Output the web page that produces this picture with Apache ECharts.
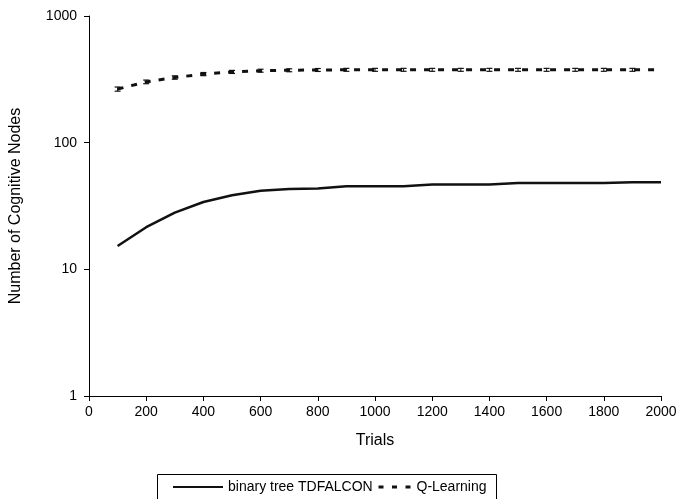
<!DOCTYPE html>
<html>
<head>
<meta charset="utf-8">
<script src="https://cdn.jsdelivr.net/npm/echarts@6/dist/echarts.min.js"></script>
<style>html,body{margin:0;padding:0;background:#fff;}#c{width:685px;height:499px;}</style>
</head>
<body>
<div id="c"></div>
<script>
var trials = [100,200,300,400,500,600,700,800,900,1000,1100,1200,1300,1400,1500,1600,1700,1800,1900,2000];
var binaryTree = [15.3,21.5,28,34,38.4,41.7,43,43.5,45.2,45.2,45.2,46.8,46.8,46.8,48,48,48,48,48.6,48.6];
var qLearning = [265,302,327,348,362,370,373,375,376,376,376,376,376,376,376,376,376,376,376,376];
var errTrials = [100,200,300,400,500,600,700,800,900,1000,1100,1200,1300,1400,1500,1600,1700,1800,1900];
var errLow = [255,292,317,338,352,360,363,365,366,366,366,366,366,366,366,366,366,366,366];
var errHigh = [275,312,337,358,372,380,383,385,386,386,386,386,386,386,386,386,386,386,386];
var xTicks = [0,200,400,600,800,1000,1200,1400,1600,1800,2000];

var font = '"Liberation Sans", Arial, sans-serif';
var chart = echarts.init(document.getElementById('c'));
var errData = errTrials.map(function(t,i){return [t, errLow[i], errHigh[i]];});
chart.setOption({
  animation: false,
  backgroundColor: '#fff',
  grid: {left: 88, right: 24, top: 16, bottom: 103, containLabel: false},
  xAxis: {
    type: 'value', min: 0, max: 2000, interval: 200,
    name: 'Trials', nameLocation: 'middle', nameGap: 37,
    nameTextStyle: {fontFamily: font, fontSize: 16, color: '#000'},
    axisLine: {lineStyle: {color: '#000', width: 1}},
    axisTick: {show: true, length: 5, lineStyle: {color: '#000'}},
    axisLabel: {fontFamily: font, fontSize: 14, color: '#000', margin: 9,
      formatter: function(v){ return xTicks.indexOf(v) >= 0 ? String(v) : ''; }},
    splitLine: {show: false}
  },
  yAxis: {
    type: 'log', logBase: 10, min: 1, max: 1000,
    name: 'Number of Cognitive Nodes', nameLocation: 'middle', nameGap: 65,
    nameTextStyle: {fontFamily: font, fontSize: 16, color: '#000'},
    axisLine: {show: true, lineStyle: {color: '#000', width: 1}},
    axisTick: {show: true, length: 5, lineStyle: {color: '#000'}},
    axisLabel: {fontFamily: font, fontSize: 14, color: '#000', margin: 12,
      formatter: function(v){ return String(Math.round(v)); }},
    minorTick: {show: false},
    splitLine: {show: false}
  },
  legend: [{
    left: 172, top: 480, itemWidth: 50, itemHeight: 14, padding: 0,
    itemStyle: {opacity: 0},
    data: [{name: 'binary tree TDFALCON'}],
    textStyle: {fontFamily: font, fontSize: 14, color: '#000'}
  }, {
    left: 377, top: 480, itemWidth: 32, itemHeight: 14, padding: 0,
    itemStyle: {opacity: 0},
    lineStyle: {type: [5, 8.5], width: 3},
    data: [{name: 'Q-Learning'}],
    textStyle: {fontFamily: font, fontSize: 14, color: '#000', padding: [0,0,0,1]}
  }],
  graphic: [{
    type: 'rect', shape: {x: 157.5, y: 474.5, width: 339, height: 40},
    style: {fill: 'none', stroke: '#000', lineWidth: 1}, silent: true
  }],
  series: [{
    name: 'binary tree TDFALCON', type: 'line', symbol: 'none', smooth: false,
    data: trials.map(function(t,i){return [t, binaryTree[i]];}),
    lineStyle: {color: '#111', width: 2.5}, itemStyle: {color: '#111'}
  }, {
    name: 'Q-Learning', type: 'line', symbol: 'none',
    data: trials.map(function(t,i){return [t, qLearning[i]];}),
    lineStyle: {color: '#111', width: 3, type: [6, 8]}, itemStyle: {color: '#111'}
  }, {
    name: 'err', type: 'custom', data: errData,
    renderItem: function(params, api){
      var x = api.value(0);
      var lo = api.coord([x, api.value(1)]);
      var hi = api.coord([x, api.value(2)]);
      var hw = 3;
      return {type: 'group', children: [
        {type: 'line', shape: {x1: lo[0], y1: lo[1], x2: hi[0], y2: hi[1]}, style: {stroke: '#111', lineWidth: 1}},
        {type: 'line', shape: {x1: lo[0]-hw, y1: lo[1], x2: lo[0]+hw, y2: lo[1]}, style: {stroke: '#111', lineWidth: 1.2}},
        {type: 'line', shape: {x1: hi[0]-hw, y1: hi[1], x2: hi[0]+hw, y2: hi[1]}, style: {stroke: '#111', lineWidth: 1.2}}
      ]};
    },
    z: 3
  }]
});
</script>
</body>
</html>
